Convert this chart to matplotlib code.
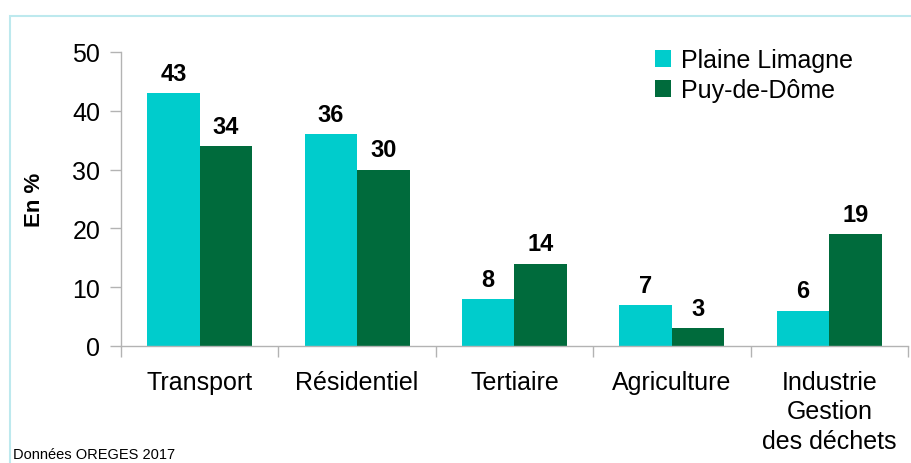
import numpy as np
import matplotlib.pyplot as plt
from matplotlib.patches import Rectangle

plt.rcParams['font.family'] = ['Liberation Sans', 'DejaVu Sans']

categories = ["Transport", "Résidentiel", "Tertiaire", "Agriculture", "Industrie\nGestion\ndes déchets"]
series_names = ["Plaine Limagne", "Puy-de-Dôme"]
plaine = [43, 36, 8, 7, 6]
puy = [34, 30, 14, 3, 19]
colors = ["#00cccc", "#006b3c"]

fig = plt.figure(figsize=(9.12, 4.64), dpi=100)
ax = fig.add_axes([121/912, 1-347/464, 787/912, 294/464])

x = np.arange(len(categories))
w = 1/3
b1 = ax.bar(x - w/2, plaine, w, color=colors[0], label=series_names[0])
b2 = ax.bar(x + w/2, puy, w, color=colors[1], label=series_names[1])

for bars, vals in [(b1, plaine), (b2, puy)]:
    for r, v in zip(bars, vals):
        ax.annotate(str(v), (r.get_x() + r.get_width()/2, r.get_height()),
                    xytext=(0, 6), textcoords="offset points",
                    ha="center", va="bottom", fontsize=17, fontweight="bold")

ax.set_xlim(-0.5, len(categories) - 0.5)
ax.set_ylim(0, 50)
ax.set_yticks(np.arange(0, 51, 10))
ax.set_xticks(x)
ax.set_xticklabels(categories, linespacing=1.3)
ax.set_xticks(np.arange(-0.5, len(categories), 1), minor=True)

grey = "#b3b3b3"
for s in ["top", "right"]:
    ax.spines[s].set_visible(False)
for s in ["left", "bottom"]:
    ax.spines[s].set_color(grey)
    ax.spines[s].set_linewidth(1)
ax.tick_params(axis="x", which="major", length=0, pad=17, labelsize=18)
ax.tick_params(axis="x", which="minor", length=8, color=grey, width=1)
ax.tick_params(axis="y", length=8, color=grey, width=1, pad=7, labelsize=18)

fig.text(35/912, 1-200/464, "En %", rotation=90, ha="center", va="center",
         fontsize=16, fontweight="bold")

ax.legend(loc="upper left", bbox_to_anchor=(655/912, 1-49/464),
          bbox_transform=fig.transFigure, frameon=False, fontsize=18,
          handlelength=0.65, handleheight=0.65, handletextpad=0.4,
          labelspacing=0.25, borderaxespad=0, borderpad=0)

fig.text(13/912, 1-455/464, "Données OREGES 2017", ha="left", va="center", fontsize=10.5)

fig.patches.append(Rectangle((10/912, -0.1), 1.0, 1-17/464 + 0.1, transform=fig.transFigure,
                             fill=False, edgecolor="#bde9ee", linewidth=1.5, clip_on=False))

fig.savefig("out.png", dpi=100)
